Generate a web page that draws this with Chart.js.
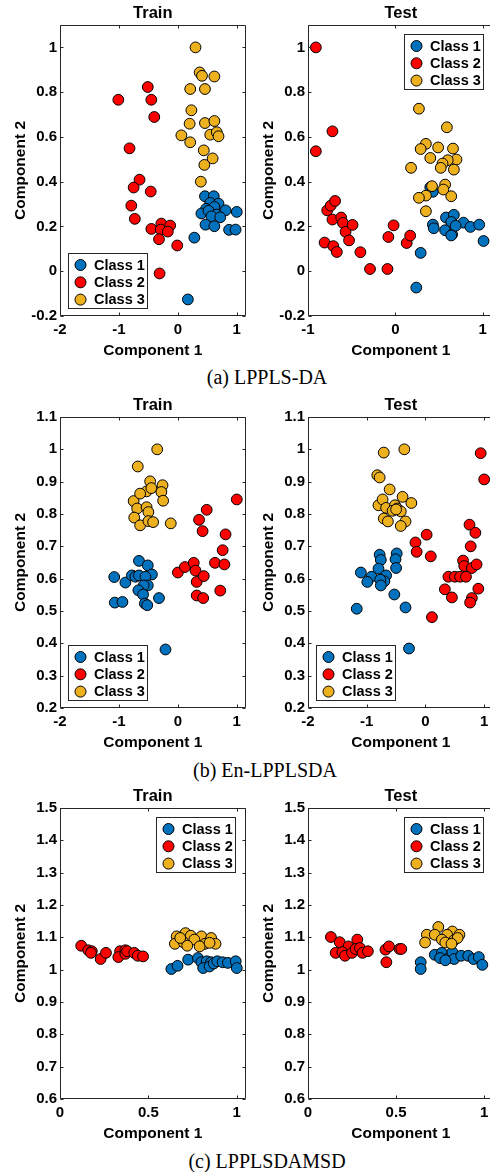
<!DOCTYPE html>
<html>
<head>
<meta charset="utf-8">
<script src="https://cdn.jsdelivr.net/npm/chart.js@4.4.0/dist/chart.umd.min.js"></script>
<style>
  html, body { margin: 0; padding: 0; background: #fff; }
  body { position: relative; width: 490px; height: 1172px; overflow: hidden; }
  canvas { position: absolute; }
  .cap { position: absolute; width: 300px; text-align: center; line-height: 20px;
         font-family: "Liberation Serif", "DejaVu Serif", serif; font-size: 20px; color: #000; }
</style>
</head>
<body>
<canvas id="aTrain"></canvas>
<canvas id="aTest"></canvas>
<canvas id="bTrain"></canvas>
<canvas id="bTest"></canvas>
<canvas id="cTrain"></canvas>
<canvas id="cTest"></canvas>
<div class="cap" style="left:117px; top:367px;">(a) LPPLS-DA</div>
<div class="cap" style="left:115px; top:760px;">(b) En-LPPLSDA</div>
<div class="cap" style="left:117px; top:1151px;">(c) LPPLSDAMSD</div>

<script>
(function() {
  'use strict';

  // ===== 数据 (x, y) =====
  const classNames = ['Class 1', 'Class 2', 'Class 3'];
  const classColors = ['#0072BD', '#FF0000', '#EDB120'];

  // (a) LPPLS-DA
  const aTrain1 = [[0.46,0.335],[0.61,0.335],[0.55,0.305],[0.69,0.302],[0.48,0.279],[0.62,0.287],[0.81,0.272],[1.00,0.265],[0.40,0.258],[0.52,0.270],[0.66,0.253],[0.57,0.245],[0.72,0.241],[0.47,0.208],[0.62,0.201],[0.87,0.185],[0.98,0.186],[0.28,0.150],[0.17,-0.126]];
  const aTrain2 = [[-1.01,0.766],[-0.51,0.823],[-0.45,0.766],[-0.40,0.689],[-0.82,0.549],[-0.65,0.409],[-0.75,0.374],[-0.46,0.356],[-0.79,0.293],[-0.73,0.234],[-0.28,0.213],[-0.13,0.204],[-0.45,0.189],[-0.29,0.186],[-0.17,0.177],[-0.32,0.143],[-0.01,0.115],[-0.31,-0.010]];
  const aTrain3 = [[0.30,1.0],[0.37,0.888],[0.41,0.873],[0.62,0.870],[0.21,0.814],[0.46,0.814],[0.23,0.719],[0.20,0.659],[0.46,0.662],[0.62,0.671],[0.06,0.607],[0.21,0.576],[0.55,0.610],[0.66,0.621],[0.69,0.603],[0.44,0.540],[0.59,0.504],[0.45,0.475],[0.39,0.400]];
  const aTest1 = [[0.40,0.375],[0.43,0.355],[0.29,0.082],[0.24,-0.073],[0.58,0.240],[0.67,0.252],[0.64,0.220],[0.78,0.217],[0.86,0.198],[0.96,0.208],[1.01,0.135],[0.43,0.208],[0.44,0.192],[0.57,0.183],[0.65,0.164],[0.64,0.160],[0.69,0.203]];
  const aTest2 = [[-0.91,1.0],[-0.91,0.536],[-0.72,0.625],[-0.78,0.272],[-0.74,0.293],[-0.69,0.314],[-0.72,0.231],[-0.62,0.240],[-0.60,0.216],[-0.57,0.176],[-0.49,0.207],[-0.81,0.128],[-0.71,0.112],[-0.67,0.086],[-0.53,0.138],[-0.40,0.085],[-0.29,0.010],[-0.09,0.010],[-0.08,0.153],[-0.02,0.205],[0.13,0.126],[0.17,0.159]];
  const aTest3 = [[0.27,0.726],[0.59,0.643],[0.35,0.569],[0.29,0.546],[0.49,0.553],[0.66,0.548],[0.40,0.506],[0.70,0.499],[0.60,0.496],[0.54,0.481],[0.52,0.462],[0.67,0.454],[0.18,0.462],[0.42,0.380],[0.57,0.387],[0.55,0.365],[0.35,0.338],[0.27,0.328],[0.64,0.335],[0.35,0.268]];

  // (b) En-LPPLSDA
  const bTrain1 = [[-0.66,0.655],[-0.51,0.641],[-0.44,0.613],[-1.08,0.605],[-0.89,0.588],[-0.78,0.610],[-0.72,0.606],[-0.66,0.610],[-0.55,0.606],[-0.51,0.579],[-0.58,0.579],[-0.67,0.564],[-0.59,0.551],[-0.56,0.523],[-0.52,0.518],[-0.32,0.540],[-1.07,0.526],[-0.94,0.528],[-0.21,0.381]];
  const bTrain2 = [[1.0,0.845],[0.49,0.813],[0.36,0.782],[0.42,0.747],[0.81,0.737],[0.76,0.688],[0.0,0.619],[0.12,0.636],[0.27,0.649],[0.30,0.625],[0.63,0.649],[0.79,0.644],[0.32,0.590],[0.44,0.608],[0.32,0.548],[0.43,0.540],[0.72,0.563]];
  const bTrain3 = [[-0.35,1.0],[-0.68,0.947],[-0.47,0.901],[-0.53,0.870],[-0.45,0.880],[-0.26,0.889],[-0.28,0.868],[-0.25,0.841],[-0.75,0.840],[-0.64,0.863],[-0.69,0.817],[-0.53,0.821],[-0.50,0.806],[-0.74,0.789],[-0.64,0.765],[-0.50,0.778],[-0.42,0.775],[-0.12,0.771]];
  const bTest1 = [[-0.78,0.674],[-0.76,0.658],[-0.49,0.678],[-0.51,0.660],[-0.50,0.633],[-1.10,0.619],[-0.92,0.606],[-0.99,0.590],[-0.80,0.631],[-0.67,0.610],[-0.70,0.592],[-0.77,0.597],[-0.76,0.579],[-0.53,0.551],[-0.34,0.511],[-1.17,0.507],[-0.28,0.384]];
  const bTest2 = [[0.94,0.988],[1.0,0.907],[0.02,0.736],[-0.17,0.712],[-0.15,0.683],[0.09,0.669],[0.75,0.767],[0.85,0.742],[0.77,0.700],[0.64,0.656],[0.66,0.639],[0.79,0.633],[0.87,0.644],[0.39,0.606],[0.50,0.606],[0.59,0.606],[0.69,0.606],[0.33,0.567],[0.45,0.542],[0.90,0.569],[0.79,0.540],[0.76,0.526],[0.11,0.481]];
  const bTest3 = [[-0.71,0.990],[-0.36,1.0],[-0.82,0.920],[-0.78,0.913],[-0.61,0.876],[-0.39,0.853],[-0.24,0.834],[-0.80,0.827],[-0.73,0.845],[-0.67,0.819],[-0.52,0.827],[-0.48,0.817],[-0.42,0.808],[-0.56,0.810],[-0.50,0.814],[-0.71,0.786],[-0.64,0.777],[-0.34,0.777],[-0.42,0.763]];

  // (c) LPPLSDAMSD
  const cTrain1 = [[0.63,1.002],[0.665,1.012],[0.725,1.031],[0.78,1.036],[0.80,1.023],[0.83,1.026],[0.855,1.023],[0.81,1.005],[0.846,1.010],[0.87,1.019],[0.89,1.026],[0.92,1.023],[0.95,1.021],[0.994,1.026],[1.0,1.005]];
  const cTrain2 = [[0.12,1.074],[0.16,1.060],[0.18,1.057],[0.175,1.052],[0.23,1.033],[0.26,1.052],[0.34,1.057],[0.37,1.060],[0.33,1.039],[0.37,1.049],[0.38,1.057],[0.42,1.052],[0.44,1.043],[0.47,1.041]];
  const cTrain3 = [[0.71,1.113],[0.66,1.103],[0.74,1.105],[0.80,1.103],[0.855,1.098],[0.65,1.080],[0.70,1.084],[0.76,1.093],[0.82,1.080],[0.88,1.080],[0.72,1.074],[0.79,1.072],[0.846,1.083],[0.68,1.098]];
  const cTest1 = [[0.64,1.023],[0.64,1.002],[0.72,1.046],[0.76,1.052],[0.80,1.036],[0.82,1.054],[0.83,1.033],[0.87,1.043],[0.91,1.043],[0.94,1.033],[0.97,1.039],[0.99,1.015],[0.75,1.036],[0.78,1.029]];
  const cTest2 = [[0.13,1.101],[0.18,1.085],[0.28,1.093],[0.23,1.072],[0.157,1.052],[0.195,1.054],[0.21,1.043],[0.25,1.052],[0.27,1.064],[0.295,1.067],[0.31,1.052],[0.34,1.057],[0.44,1.062],[0.46,1.072],[0.445,1.023],[0.52,1.064],[0.53,1.064]];
  const cTest3 = [[0.74,1.132],[0.82,1.118],[0.675,1.108],[0.72,1.108],[0.79,1.108],[0.86,1.108],[0.665,1.084],[0.76,1.093],[0.78,1.084],[0.83,1.091],[0.85,1.098],[0.815,1.080]];

  // ===== 刻度 =====
  const ticksX2 = [-2, -1, 0, 1];
  const ticksX1 = [-1, 0, 1];
  const ticksXc = [0, 0.5, 1];
  const ticksYa = [-0.2, 0, 0.2, 0.4, 0.6, 0.8, 1];
  const ticksYb = [0.2, 0.3, 0.4, 0.5, 0.6, 0.7, 0.8, 0.9, 1, 1.1];
  const ticksYc = [0.6, 0.7, 0.8, 0.9, 1, 1.1, 1.2, 1.3, 1.4, 1.5];

  // ===== 子图布局 =====
  const W = 188, H = 291;
  const panels = [
    { id: 'aTrain', title: 'Train', left: 60,  top: 25,  x: [-2, 1.15],  y: [-0.2, 1.1], xt: ticksX2, yt: ticksYa, data: [aTrain1, aTrain2, aTrain3], legend: 'sw' },
    { id: 'aTest',  title: 'Test',  left: 308, top: 25,  x: [-1, 1.125], y: [-0.2, 1.1], xt: ticksX1, yt: ticksYa, data: [aTest1, aTest2, aTest3],   legend: 'ne' },
    { id: 'bTrain', title: 'Train', left: 60,  top: 417, x: [-2, 1.15],  y: [0.2, 1.1],  xt: ticksX2, yt: ticksYb, data: [bTrain1, bTrain2, bTrain3], legend: 'sw' },
    { id: 'bTest',  title: 'Test',  left: 308, top: 417, x: [-2, 1.16],  y: [0.2, 1.1],  xt: ticksX2, yt: ticksYb, data: [bTest1, bTest2, bTest3],   legend: 'sw' },
    { id: 'cTrain', title: 'Train', left: 60,  top: 808, x: [0, 1.05],   y: [0.6, 1.5],  xt: ticksXc, yt: ticksYc, data: [cTrain1, cTrain2, cTrain3], legend: 'ne' },
    { id: 'cTest',  title: 'Test',  left: 308, top: 808, x: [0, 1.054],  y: [0.6, 1.5],  xt: ticksXc, yt: ticksYc, data: [cTest1, cTest2, cTest3],   legend: 'ne' }
  ];

  const FONT = '"Liberation Sans", Arial, Helvetica, sans-serif';
  const INK = '#000';
  const PAD_L = 60, PAD_T = 25, PAD_R = 4, PAD_B = 46;

  function fmt(v) {
    return String(Math.round(v * 10) / 10);
  }

  // 坐标框、内向刻度线和图例
  const boxPlugin = {
    id: 'matBox',
    afterDatasetsDraw(chart, args, opts) {
      const { ctx, chartArea: a, scales: { x, y } } = chart;
      const L = Math.round(a.left) + 0.5, R = Math.round(a.right) - 0.5;
      const T = Math.round(a.top) + 0.5, B = Math.round(a.bottom) - 0.5;
      const tk = 3;
      ctx.save();
      ctx.strokeStyle = '#262626';
      ctx.lineWidth = 1;
      ctx.beginPath();
      ctx.rect(L, T, R - L, B - T);
      opts.xt.forEach(v => {
        const px = Math.round(x.getPixelForValue(v)) + 0.5;
        ctx.moveTo(px, B); ctx.lineTo(px, B - tk);
        ctx.moveTo(px, T); ctx.lineTo(px, T + tk);
      });
      opts.yt.forEach(v => {
        const py = Math.round(y.getPixelForValue(v)) + 0.5;
        ctx.moveTo(L, py); ctx.lineTo(L + tk, py);
        ctx.moveTo(R, py); ctx.lineTo(R - tk, py);
      });
      ctx.stroke();

      // 图例
      const bw = 79, bh = 55;
      let bx, by;
      if (opts.legend === 'sw') {
        bx = a.left + 8; by = a.bottom - 8 - bh;
      } else {
        bx = a.right - 11 - bw; by = a.top + 9;
      }
      bx = Math.round(bx) + 0.5; by = Math.round(by) + 0.5;
      ctx.fillStyle = '#fff';
      ctx.fillRect(bx, by, bw, bh);
      ctx.strokeRect(bx, by, bw, bh);
      ctx.font = 'bold 14.5px ' + FONT;
      ctx.textBaseline = 'middle';
      ctx.textAlign = 'left';
      chart.data.datasets.forEach((ds, i) => {
        const cy = by + 11.5 + i * 17.3;
        ctx.beginPath();
        ctx.arc(bx + 12, cy, 5.5, 0, Math.PI * 2);
        ctx.fillStyle = ds.backgroundColor;
        ctx.fill();
        ctx.strokeStyle = '#000';
        ctx.stroke();
        ctx.fillStyle = INK;
        ctx.fillText(ds.label, bx + 25.5, cy + 0.5);
      });
      ctx.restore();
    }
  };

  function makeChart(p) {
    const canvas = document.getElementById(p.id);
    canvas.width = W + PAD_L + PAD_R;
    canvas.height = H + PAD_T + PAD_B;
    canvas.style.left = (p.left - PAD_L) + 'px';
    canvas.style.top = (p.top - PAD_T) + 'px';

    const datasets = p.data.map((pts, i) => ({
      label: classNames[i],
      data: pts.map(d => ({ x: d[0], y: d[1] })),
      backgroundColor: classColors[i],
      borderColor: '#000',
      borderWidth: 1,
      pointRadius: 5.4,
      pointHoverRadius: 5.4,
      order: 2 - i
    }));

    return new Chart(canvas, {
      type: 'scatter',
      data: { datasets: datasets },
      options: {
        responsive: false,
        animation: false,
        events: [],
        layout: { padding: { top: 3.2, right: PAD_R, bottom: 0, left: 0 } },
        plugins: {
          legend: { display: false },
          tooltip: { enabled: false },
          title: {
            display: true,
            text: p.title,
            fullSize: false,
            color: INK,
            font: { family: FONT, size: 16.5, weight: 'bold', lineHeight: 1.2 },
            padding: { top: 0, bottom: 2 }
          },
          matBox: { xt: p.xt, yt: p.yt, legend: p.legend }
        },
        scales: {
          x: {
            type: 'linear',
            min: p.x[0], max: p.x[1],
            grid: { display: false, drawTicks: false },
            border: { display: false },
            afterBuildTicks: s => { s.ticks = p.xt.map(v => ({ value: v })); },
            afterFit: s => { s.height = PAD_B; },
            ticks: {
              color: INK, padding: 5, maxRotation: 0, autoSkip: false,
              font: { family: FONT, size: 15, weight: 'bold' },
              callback: v => fmt(v)
            },
            title: {
              display: true, text: 'Component 1', color: INK,
              font: { family: FONT, size: 15.5, weight: 'bold', lineHeight: 1.2 },
              padding: { top: 0, bottom: 1.7 }
            }
          },
          y: {
            type: 'linear',
            min: p.y[0], max: p.y[1],
            grid: { display: false, drawTicks: false },
            border: { display: false },
            afterBuildTicks: s => { s.ticks = p.yt.map(v => ({ value: v })); },
            afterFit: s => { s.width = PAD_L; },
            ticks: {
              color: INK, padding: 3, autoSkip: false,
              font: { family: FONT, size: 15, weight: 'bold' },
              callback: v => fmt(v)
            },
            title: {
              display: true, text: 'Component 2', color: INK,
              font: { family: FONT, size: 15.5, weight: 'bold', lineHeight: 1.2 },
              padding: { top: 11.7, bottom: 0 }
            }
          }
        }
      },
      plugins: [boxPlugin]
    });
  }

  panels.forEach(makeChart);
})();
</script>
</body>
</html>
